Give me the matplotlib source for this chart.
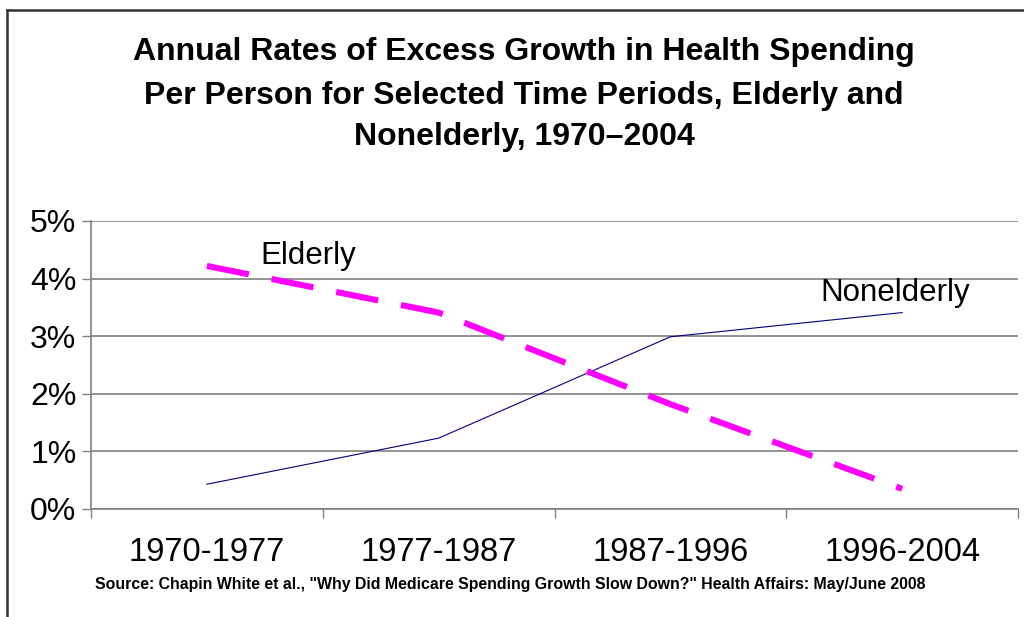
import numpy as np
import matplotlib
matplotlib.use("Agg")
import matplotlib.pyplot as plt
from matplotlib.lines import Line2D

periods = ["1970-1977", "1977-1987", "1987-1996", "1996-2004"]
elderly = [4.22, 3.41, 1.82, 0.35]
nonelderly = [0.43, 1.23, 2.99, 3.41]
yticks = [0, 1, 2, 3, 4, 5]
title_lines = ["Annual Rates of Excess Growth in Health Spending",
               "Per Person for Selected Time Periods, Elderly and",
               "Nonelderly, 1970\u20132004"]
source = 'Source: Chapin White et al., "Why Did Medicare Spending Growth Slow Down?" Health Affairs: May/June 2008'

plt.rcParams['font.family'] = ['Liberation Sans', 'DejaVu Sans']

W, H = 1024, 617
fig = plt.figure(figsize=(W / 100, H / 100), dpi=100)
ax = fig.add_axes([91 / W, 1 - 509 / H, (1018 - 91) / W, (509 - 221) / H])

x = np.arange(len(periods))
ax.plot(x, nonelderly, color="#000080", linewidth=0.8, zorder=3)
ax.plot(x, elderly, color="#FF00FF", linewidth=4.4, dashes=(7, 3.8),
        solid_capstyle="butt", dash_capstyle="butt", zorder=4)

ax.set_xlim(-0.5, len(periods) - 0.5)
ax.set_ylim(0, 5)
ax.set_yticks(yticks)
ax.set_yticklabels([f"{v}%" for v in yticks])
ax.set_xticks(x)
ax.set_xticklabels(periods)
ax.set_xticks(np.arange(len(periods) + 1) - 0.5, minor=True)
ax.tick_params(axis="x", which="major", length=0, pad=20.5, labelsize=23.5)
ax.tick_params(axis="x", which="minor", length=6.5, width=1, color="#808080", direction="out")
ax.tick_params(axis="y", length=6.5, width=1, color="#808080", direction="out", pad=4, labelsize=23)

for v in yticks:
    ax.axhline(v, color="#808080", linewidth=1.2, zorder=1)
for s in ["top", "right"]:
    ax.spines[s].set_visible(False)
ax.spines["left"].set_color("#808080")
ax.spines["bottom"].set_color("#808080")
ax.spines["left"].set_linewidth(1.2)
ax.spines["bottom"].set_linewidth(1.2)

ax.text(0.229, 4.39, "Elderly", fontsize=22.5, ha="left", va="center")
ax.text(2.646, 3.75, "Nonelderly", fontsize=22.5, ha="left", va="center")

for line, yy in zip(title_lines, [52, 96, 137]):
    fig.text(524 / W, 1 - yy / H, line, fontsize=23, fontweight="bold",
             ha="center", va="center")

fig.text(510 / W, 1 - 585 / H, source, fontsize=11.4, fontweight="bold",
         ha="center", va="center")

# slide frame
fig.add_artist(Line2D([7 / W, 7 / W], [0, 1 - 10 / H], color="#333333", linewidth=1.8))
fig.add_artist(Line2D([7 / W, 1], [1 - 10 / H, 1 - 10 / H], color="#333333", linewidth=1.8))

fig.savefig("out.png", dpi=100)
